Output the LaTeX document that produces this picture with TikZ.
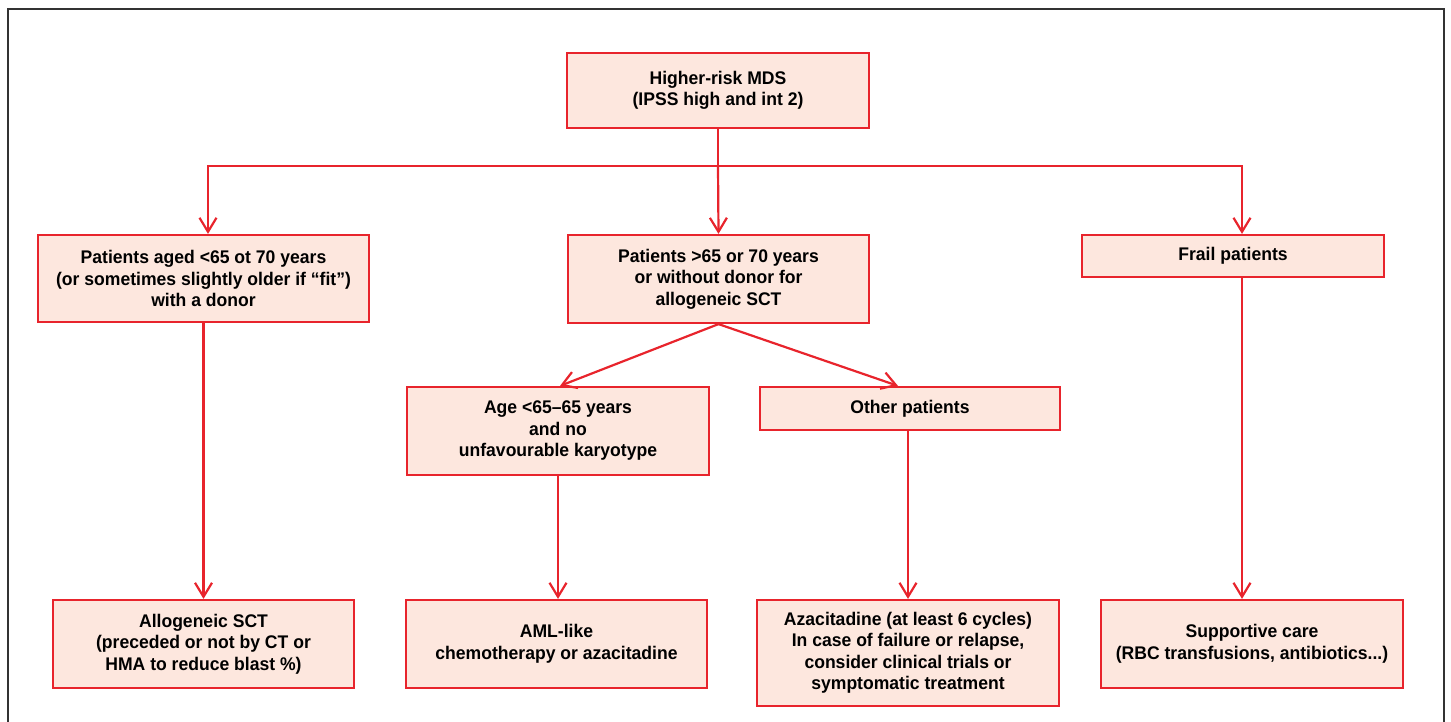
\documentclass[tikz,border=0pt]{standalone}
\usepackage{fontspec}
\setmainfont{Liberation Sans}[FakeStretch=0.96]
\usetikzlibrary{arrows.meta}
\definecolor{boxred}{HTML}{E8242C}
\definecolor{boxfill}{HTML}{FDE7DE}
\begin{document}
\begin{tikzpicture}[x=1pt, y=-1pt,
    stepbox/.style={draw=boxred, fill=boxfill, line width=2.2pt, align=center,
      inner sep=0pt, font=\bfseries\fontsize{18.3}{21.5}\selectfont},
    link/.style={draw=boxred, line width=2.2pt, -{Straight Barb[length=14pt, width=17pt, line width=2.2pt]}}]
      \useasboundingbox (0,0) rectangle (1451,722);
      \draw[line width=2pt, black!80] (8,740) -- (8,9) -- (1444,9) -- (1444,740);
      \node[stepbox, minimum width=302, minimum height=75] (mds) at (718,90.5)
        {Higher-risk MDS\\(IPSS high and int 2)};
      \node[stepbox, minimum width=331, minimum height=87] (young) at (203.5,278.5)
        {Patients aged <65 ot 70 years\\(or sometimes slightly older if “fit”)\\with a donor};
      \node[stepbox, minimum width=301, minimum height=88] (old) at (718.5,279)
        {Patients >65 or 70 years\\or without donor for\\allogeneic SCT};
      \node[stepbox, minimum width=302, minimum height=42] (frail) at (1233,256)
        {Frail patients};
      \node[stepbox, minimum width=302, minimum height=88] (age) at (558,431)
        {Age <65–65 years\\and no\\unfavourable karyotype};
      \node[stepbox, minimum width=300, minimum height=43] (other) at (910,408.5)
        {Other patients};
      \node[stepbox, minimum width=301, minimum height=88] (sct) at (203.5,644)
        {Allogeneic SCT\\(preceded or not by CT or\\HMA to reduce blast \%)};
      \node[stepbox, minimum width=301, minimum height=88] (aml) at (556.5,644)
        {AML-like\\chemotherapy or azacitadine};
      \node[stepbox, minimum width=302, minimum height=106] (aza) at (908,653)
        {Azacitadine (at least 6 cycles)\\In case of failure or relapse,\\consider clinical trials or\\symptomatic treatment};
      \node[stepbox, minimum width=302, minimum height=88] (care) at (1252,644)
        {Supportive care\\(RBC transfusions, antibiotics...)};
      \coordinate (split) at (718,166);
      \draw[draw=boxred, line width=2.2pt] (mds.south) -- (split);
      \draw[link] (split) -| ([xshift=4.5]young.north);
      \draw[link] (split) -- (old.north);
      \draw[link] (split) -| ([xshift=9]frail.north);
      \draw[link] (old.south) -- ([xshift=2]age.north);
      \draw[link] (old.south) -- ([xshift=-12]other.north);
      \draw[link] (young.south) -- (sct.north);
      \draw[link] (age.south) -- ([xshift=1.5]aml.north);
      \draw[link] (other.south -| aza.north) -- (aza.north);
      \draw[link] ([xshift=9]frail.south) -- ([xshift=9]frail.south |- care.north);
    \end{tikzpicture}
\end{document}
